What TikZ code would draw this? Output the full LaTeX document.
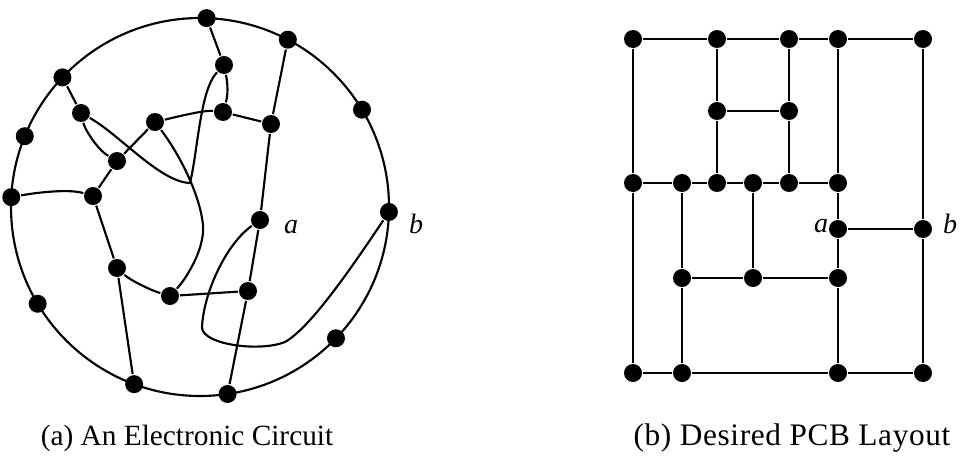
\documentclass[tikz,border=0pt]{standalone}
\usepackage{fontspec}
\setmainfont{Liberation Serif}
\usetikzlibrary{positioning}

\begin{document}
\begin{tikzpicture}[
    x=0.75pt, y=-0.75pt,
    line width=1.6pt,
    term node/.style={circle, fill=black, inner sep=0pt, minimum size=13.5pt},
    pad node/.style={circle, fill=black, inner sep=0pt, minimum size=13.5pt},
    pin label/.style={font=\fontsize{21}{24}\selectfont\itshape, inner sep=0pt},
    caption text/.style={font=\fontsize{22}{26}\selectfont}
]
    \useasboundingbox (0,0) rectangle (961,468);

    % --- Circuit: ring of terminals ---
    \draw (200,207) circle [radius=189];
    \node[term node] (R1)  at ([shift={(200,207)}]272:189) {};
    \node[term node] (R2)  at ([shift={(200,207)}]297.7:189) {};
    \node[term node] (R3)  at ([shift={(200,207)}]329:189) {};
    \node[term node] (Rb)  at ([shift={(200,207)}]1.5:189) {};
    \node[term node] (R5)  at ([shift={(200,207)}]44:189) {};
    \node[term node] (R6)  at ([shift={(200,207)}]81.6:189) {};
    \node[term node] (R7)  at ([shift={(200,207)}]110.4:189) {};
    \node[term node] (R8)  at ([shift={(200,207)}]149.2:189) {};
    \node[term node] (R9)  at ([shift={(200,207)}]183:189) {};
    \node[term node] (R10) at ([shift={(200,207)}]202:189) {};
    \node[term node] (R11) at ([shift={(200,207)}]223.3:189) {};

    % --- Circuit: inner terminals ---
    \node[term node] (I1)  at (224,65) {};
    \node[term node] (I2)  at (223,112) {};
    \node[term node] (I3)  at (271,124) {};
    \node[term node] (I4)  at (155,122) {};
    \node[term node] (I5)  at (81,113) {};
    \node[term node] (I6)  at (117,161) {};
    \node[term node] (I7)  at (93,196) {};
    \node[term node] (Ia)  at (260,220) {};
    \node[term node] (I8)  at (117,268) {};
    \node[term node] (I9)  at (170,296) {};
    \node[term node] (I10) at (248,291) {};

    \coordinate (dipA) at (190,183);
    \coordinate (dipB) at (203,225);
    \coordinate (loop1) at (202,328);
    \coordinate (loop2) at (285,342);

    \draw (R1) -- (I1);
    \draw (I1) .. controls (228,85) and (228,95) .. (I2);
    \draw (I2) -- (I3);
    \draw (I3) -- (R2);
    \draw (I3) -- (Ia);
    \draw (Ia) -- (I10);
    \draw (I10) -- (R6);
    \draw (I10) -- (I9);
    \draw (I9) .. controls (150,290) and (130,280) .. (I8);
    \draw (I8) -- (I7);
    \draw (I8) -- (R7);
    \draw (R9) .. controls (40,192) and (70,189) .. (I7);
    \draw (I7) -- (I6);
    \draw (I5) .. controls (85,130) and (98,150) .. (I6);
    \draw (I5) -- (R11);
    \draw (I6) -- (I4);
    \draw (I4) .. controls (180,116) and (205,110) .. (I2);
    \draw (I5) .. controls (120,135) and (160,182) .. (dipA)
               .. controls (198,150) and (200,90) .. (I1);
    \draw (I4) .. controls (180,155) and (200,195) .. (dipB)
               .. controls (205,250) and (185,280) .. (I9);
    \draw (Ia) .. controls (225,245) and (203,295) .. (loop1)
               .. controls (204,345) and (260,352) .. (loop2)
               .. controls (310,328) and (350,270) .. (Rb);

    \node[pin label] at (291,227) {a};
    \node[pin label] at (416,224) {b};
    \node[caption text] (capA) at (187,438) {(a) An Electronic Circuit};

    % --- PCB layout ---
    \node[pad node] (T1) at (633,39) {};
    \node[pad node] (T2) at (717,39) {};
    \node[pad node] (T3) at (789,39) {};
    \node[pad node] (T4) at (838,39) {};
    \node[pad node] (T5) at (923,39) {};
    \node[pad node] (M1) at (717,111) {};
    \node[pad node] (M2) at (789,111) {};
    \node[pad node] (K1) at (633,183) {};
    \node[pad node] (K2) at (682,183) {};
    \node[pad node] (K3) at (717,183) {};
    \node[pad node] (K4) at (753,183) {};
    \node[pad node] (K5) at (789,183) {};
    \node[pad node] (K6) at (838,183) {};
    \node[pad node] (Pa) at (838,229) {};
    \node[pad node] (Pb) at (923,229) {};
    \node[pad node] (N1) at (682,278) {};
    \node[pad node] (N2) at (753,278) {};
    \node[pad node] (N3) at (838,278) {};
    \node[pad node] (B1) at (633,373) {};
    \node[pad node] (B2) at (682,373) {};
    \node[pad node] (B3) at (838,373) {};
    \node[pad node] (B4) at (923,373) {};

    \draw (T1) -- (T2) -- (T3) -- (T4) -- (T5);
    \draw (K1) -- (K2) -- (K3) -- (K4) -- (K5) -- (K6);
    \draw (N1) -- (N2) -- (N3);
    \draw (B1) -- (B2) -- (B3) -- (B4);
    \draw (M1) -- (M2);
    \draw (Pa) -- (Pb);
    \draw (T1) -- (K1) -- (B1);
    \draw (T2) -- (M1) -- (K3);
    \draw (T3) -- (M2) -- (K5);
    \draw (T4) -- (K6) -- (Pa) -- (N3) -- (B3);
    \draw (T5) -- (Pb) -- (B4);
    \draw (K2) -- (N1) -- (B2);
    \draw (K4) -- (N2);

    \node[pin label] at (821,226) {a};
    \node[pin label] at (950,224) {b};
    \node[caption text, font=\fontsize{23.5}{27}\selectfont] (capB) at (792,438)
        {\addfontfeature{LetterSpace=2}(b) Desired PCB Layout};
\end{tikzpicture}
\end{document}
